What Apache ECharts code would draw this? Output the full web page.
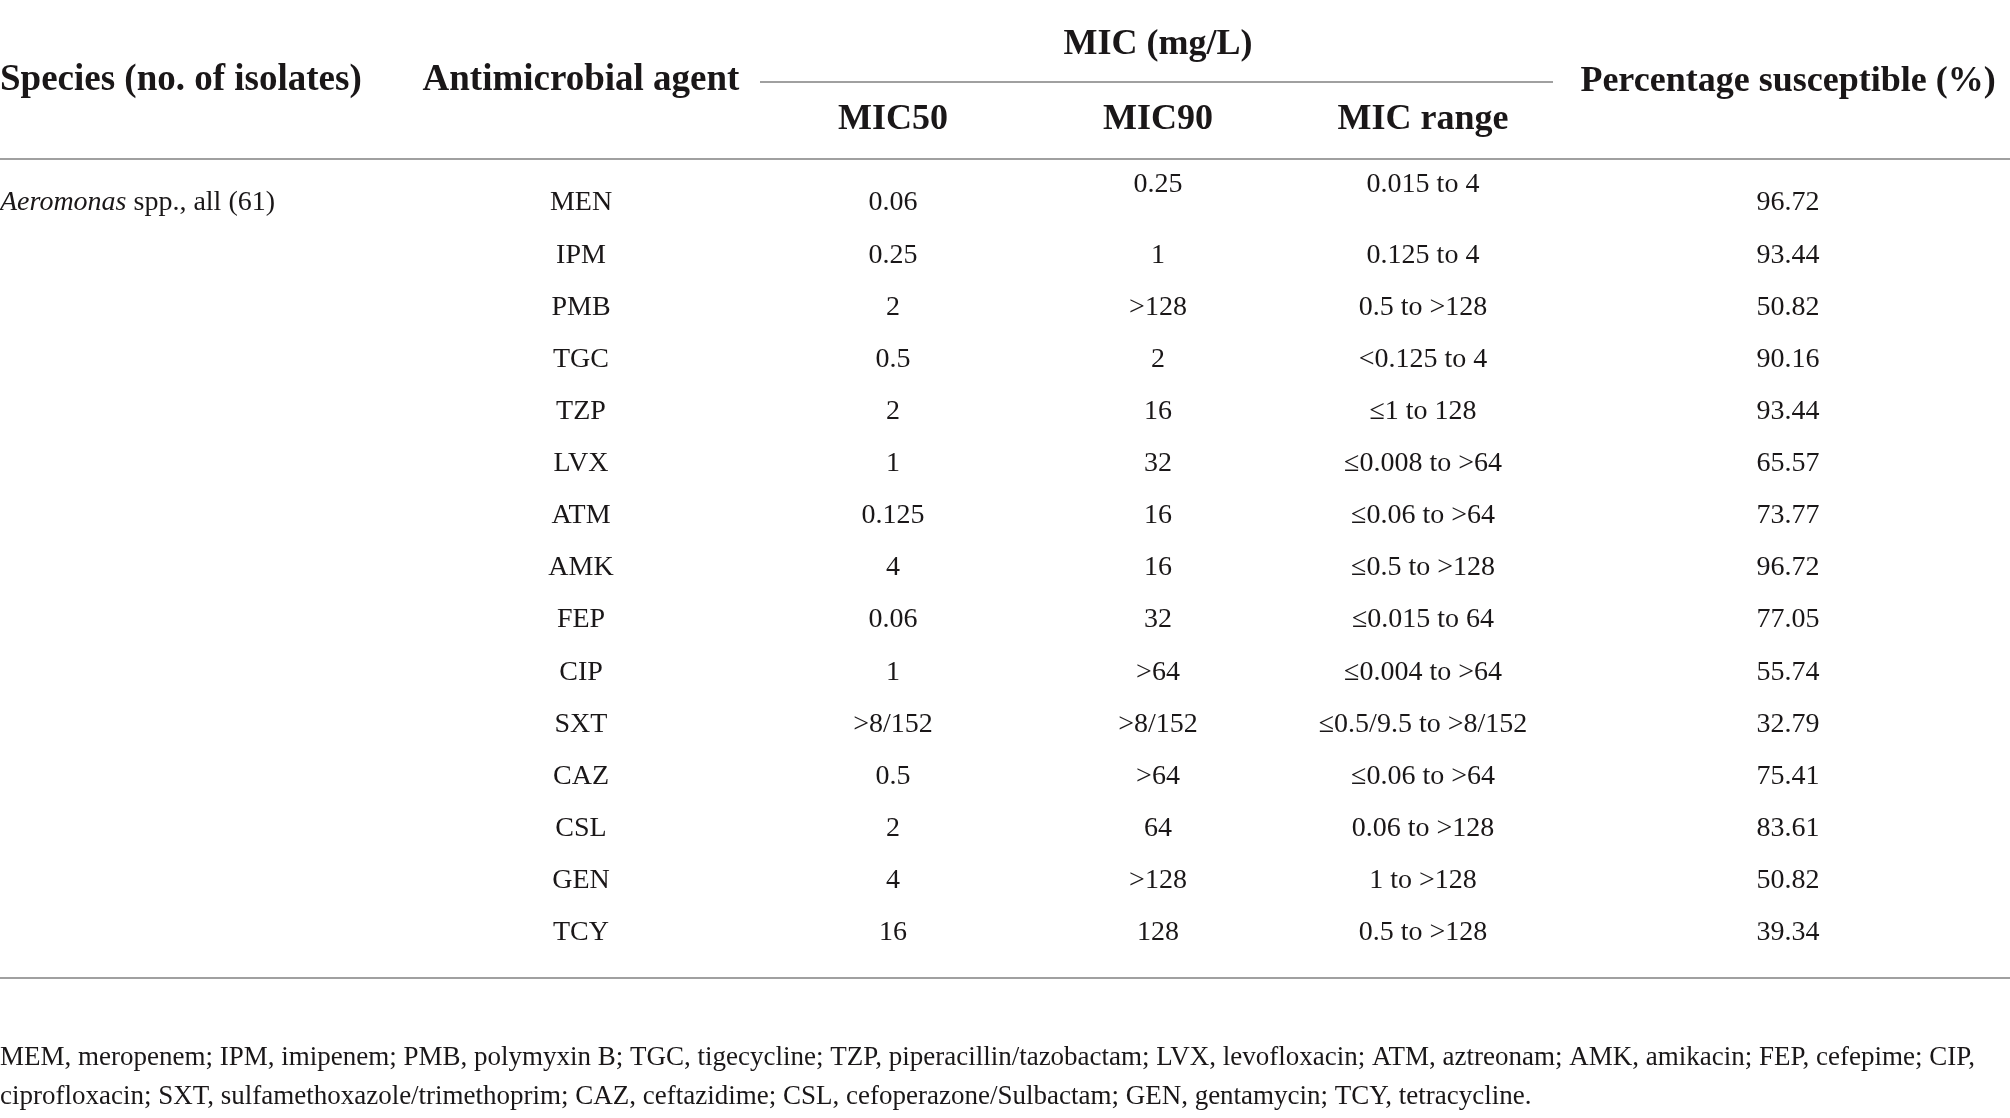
<!DOCTYPE html>
<html>
<head>
<meta charset="utf-8">
<title>MIC table</title>
<script src="https://cdn.jsdelivr.net/npm/echarts@6/dist/echarts.min.js"></script>
<style>
  html, body { margin: 0; padding: 0; background: #fff; }
  #main { width: 2010px; height: 1118px; }
</style>
</head>
<body>
<div id="main"></div>
<script>
// table data
const species = 'Aeromonas';
const speciesRest = ' spp., all (61)';
const agents = ['MEN', 'IPM', 'PMB', 'TGC', 'TZP', 'LVX', 'ATM', 'AMK', 'FEP', 'CIP', 'SXT', 'CAZ', 'CSL', 'GEN', 'TCY'];
const mic50 = ['0.06', '0.25', '2', '0.5', '2', '1', '0.125', '4', '0.06', '1', '>8/152', '0.5', '2', '4', '16'];
const mic90 = ['0.25', '1', '>128', '2', '16', '32', '16', '16', '32', '>64', '>8/152', '>64', '64', '>128', '128'];
const micRange = ['0.015 to 4', '0.125 to 4', '0.5 to >128', '<0.125 to 4', '≤1 to 128', '≤0.008 to >64',
  '≤0.06 to >64', '≤0.5 to >128', '≤0.015 to 64', '≤0.004 to >64', '≤0.5/9.5 to >8/152', '≤0.06 to >64',
  '0.06 to >128', '1 to >128', '0.5 to >128'];
const susceptible = ['96.72', '93.44', '50.82', '90.16', '93.44', '65.57', '73.77', '96.72', '77.05', '55.74',
  '32.79', '75.41', '83.61', '50.82', '39.34'];
const footnote = [
  'MEM, meropenem; IPM, imipenem; PMB, polymyxin B; TGC, tigecycline; TZP, piperacillin/tazobactam; LVX, levofloxacin; ATM, aztreonam; AMK, amikacin; FEP, cefepime; CIP,',
  'ciprofloxacin; SXT, sulfamethoxazole/trimethoprim; CAZ, ceftazidime; CSL, cefoperazone/Sulbactam; GEN, gentamycin; TCY, tetracycline.'
];

// layout (pixels)
const colX = { agent: 581, mic50: 893, mic90: 1158, range: 1423, pct: 1788 };
const FONT = '"Liberation Serif", "DejaVu Serif", serif';
const INK = '#1a1718';
const RULE = '#a0a0a0';
const BODY = 28;

function column(values, x, raiseFirst) {
  return {
    type: 'scatter',
    symbolSize: 0,
    silent: true,
    itemStyle: { opacity: 1 },
    data: values.map((v, i) => {
      const item = { value: [x, i, v] };
      if (raiseFirst && i === 0) item.label = { offset: [0, -18] };
      return item;
    }),
    label: {
      show: true,
      position: 'inside',
      formatter: p => p.value[2],
      fontFamily: FONT,
      fontSize: BODY,
      color: INK,
      opacity: 1,
      textBorderWidth: 0
    }
  };
}

const chart = echarts.init(document.getElementById('main'));

const headStyle = { fontFamily: FONT, fontSize: 36, fontWeight: 'bold', fill: INK, align: 'center', verticalAlign: 'middle' };
function head(text, x, y, align, size) {
  return { type: 'text', x: x, y: y, silent: true,
    style: Object.assign({}, headStyle, { text: text, align: align || 'center', fontSize: size || 36 }) };
}
function rule(x1, x2, y) {
  return { type: 'line', silent: true, shape: { x1: x1, y1: y, x2: x2, y2: y },
    style: { stroke: RULE, lineWidth: 2 } };
}

chart.setOption({
  backgroundColor: '#fff',
  animation: false,
  grid: { left: 0, right: 0, top: 177, height: 782 },
  xAxis: { type: 'value', min: 0, max: 2010, show: false },
  yAxis: { type: 'category', data: agents, inverse: true, show: false },
  series: [
    {
      type: 'scatter',
      symbolSize: 0,
      silent: true,
      itemStyle: { opacity: 1 },
      data: [[0, 0]],
      label: {
        show: true,
        position: 'right',
        distance: 0,
        opacity: 1,
        textBorderWidth: 0,
        formatter: '{i|' + species + '}{r|' + speciesRest + '}',
        rich: {
          i: { fontFamily: FONT, fontSize: BODY, fontStyle: 'italic', color: INK },
          r: { fontFamily: FONT, fontSize: BODY, color: INK }
        }
      }
    },
    column(agents, colX.agent, false),
    column(mic50, colX.mic50, false),
    column(mic90, colX.mic90, true),
    column(micRange, colX.range, true),
    column(susceptible, colX.pct, false)
  ],
  graphic: [
    head('Species (no. of isolates)', 0, 80, 'left', 37),
    head('Antimicrobial agent', colX.agent, 80, 'center', 37),
    head('MIC (mg/L)', colX.mic90, 45),
    head('Percentage susceptible (%)', colX.pct, 82),
    head('MIC50', colX.mic50, 120),
    head('MIC90', colX.mic90, 120),
    head('MIC range', colX.range, 120),
    rule(760, 1553, 82),
    rule(0, 2010, 159),
    rule(0, 2010, 978),
    { type: 'text', x: 0, y: 1058, silent: true,
      style: { text: footnote[0], fontFamily: FONT, fontSize: 27, fill: INK, verticalAlign: 'middle' } },
    { type: 'text', x: 0, y: 1097, silent: true,
      style: { text: footnote[1], fontFamily: FONT, fontSize: 27, fill: INK, verticalAlign: 'middle' } }
  ]
});
</script>
</body>
</html>
